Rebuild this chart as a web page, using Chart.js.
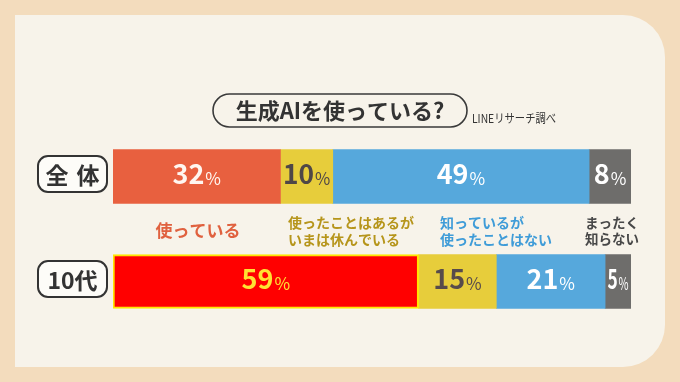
<!DOCTYPE html>
<html>
<head>
<meta charset="utf-8">
<script src="https://cdn.jsdelivr.net/npm/chart.js@4"></script>
<style>
  html, body { margin: 0; padding: 0; background: #f3dcbd; }
  #wrap { width: 680px; height: 382px; }
</style>
</head>
<body>
<div id="wrap"><canvas id="aiChart" width="680" height="382"></canvas></div>
<script>
const rowLabels = ['全体', '10代'];
const answerLabels = ['使っている', '使ったことはあるが\nいまは休んでいる', '知っているが\n使ったことはない', 'まったく\n知らない'];
const allValues = [32, 10, 49, 8];
const teenValues = [59, 15, 21, 5];
const rowValues = [allValues, teenValues];

const titleText = '生成AIを使っている?';
const sourceText = 'LINEリサーチ調べ';

// styles
const JP = "'Noto Sans CJK JP', 'Noto Sans', sans-serif";
const fills = [
    ['#e8603f', '#e7cd3b', '#56a8dc', '#6e6d6b'],
    ['#ff0000', '#e7cd3b', '#56a8dc', '#6e6d6b']
];
const valueColors = [
    ['#fff6f0', '#4f4747', '#ffffff', '#ffffff'],
    ['#ffe233', '#574b4b', '#ffffff', '#ffffff']
];
const answerColors = ['#e0613f', '#b6951b', '#3f9cd8', '#474747'];
// text anchor for the answer captions under the first bar
const answerPos = [
    { x: 198, align: 'center', size: 17 },
    { x: 288, align: 'left', size: 14 },
    { x: 440, align: 'left', size: 14 },
    { x: 585, align: 'left', size: 13.5 }
];

function sum(a) { return a.reduce((s, v) => s + v, 0); }

const datasets = [];
rowValues.forEach((vals, r) => {
    vals.forEach((v, i) => {
        const outlined = r === 1 && i === 0;
        datasets.push({
            label: answerLabels[i],
            data: rowLabels.map((_, j) => j === r ? v : null),
            xAxisID: 'x' + r,
            backgroundColor: fills[r][i],
            borderColor: outlined ? '#ffe600' : fills[r][i],
            borderWidth: outlined ? 2 : 0,
            borderSkipped: false,
            barThickness: 54,
            row: r,
            seg: i
        });
    });
});

function roundRect(ctx, x, y, w, h, r) {
    ctx.beginPath();
    ctx.moveTo(x + r, y);
    ctx.lineTo(x + w - r, y);
    ctx.arcTo(x + w, y, x + w, y + r, r);
    ctx.lineTo(x + w, y + h - r);
    ctx.arcTo(x + w, y + h, x + w - r, y + h, r);
    ctx.lineTo(x + r, y + h);
    ctx.arcTo(x, y + h, x, y + h - r, r);
    ctx.lineTo(x, y + r);
    ctx.arcTo(x, y, x + r, y, r);
    ctx.closePath();
}

const panelPlugin = {
    id: 'panel',
    beforeDraw(chart) {
        const ctx = chart.ctx;
        ctx.save();
        ctx.fillStyle = '#f3dcbd';
        ctx.fillRect(0, 0, chart.width, chart.height);
        // cream panel, rounded on the right side only
        const x0 = 15, y0 = 15, x1 = 665, y1 = 367, r = 42;
        ctx.beginPath();
        ctx.moveTo(x0, y0);
        ctx.lineTo(x1 - r, y0);
        ctx.arcTo(x1, y0, x1, y0 + r, r);
        ctx.lineTo(x1, y1 - r);
        ctx.arcTo(x1, y1, x1 - r, y1, r);
        ctx.lineTo(x0, y1);
        ctx.closePath();
        ctx.fillStyle = '#f7f3ea';
        ctx.fill();

        // title pill
        ctx.lineWidth = 1.6;
        ctx.strokeStyle = '#3a3a3a';
        roundRect(ctx, 213, 94, 254, 33, 16.5);
        ctx.stroke();
        ctx.fillStyle = '#333333';
        ctx.font = 'bold 22px ' + JP;
        ctx.textAlign = 'center';
        ctx.textBaseline = 'middle';
        ctx.fillText(titleText, 340, 111);

        ctx.font = '12px ' + JP;
        ctx.textAlign = 'left';
        ctx.save();
        ctx.translate(472, 118);
        ctx.scale(0.86, 1);
        ctx.fillText(sourceText, 0, 0);
        ctx.restore();
        ctx.restore();
    },
    afterDatasetsDraw(chart) {
        const ctx = chart.ctx;
        const yScale = chart.scales.y;
        ctx.save();

        // row name boxes
        rowLabels.forEach((name, r) => {
            const cy = yScale.getPixelForValue(r) - 2.5;
            ctx.lineWidth = 2;
            ctx.strokeStyle = '#333333';
            ctx.fillStyle = '#fdfcf8';
            roundRect(ctx, 38, cy - 18, 69, 36, 10);
            ctx.fill();
            ctx.stroke();
            ctx.fillStyle = '#333333';
            ctx.font = 'bold 23px ' + JP;
            ctx.textAlign = 'center';
            ctx.textBaseline = 'middle';
            if (r === 0) {
                ctx.letterSpacing = '8px';
                ctx.fillText(name, 76.5, cy + 1);
                ctx.letterSpacing = '0px';
            } else {
                ctx.fillText(name, 72.5, cy + 1);
            }
        });

        // values inside the bars
        chart.data.datasets.forEach((ds, di) => {
            const meta = chart.getDatasetMeta(di);
            const bar = meta.data[ds.row];
            if (!bar) return;
            const p = bar.getProps(['x', 'y', 'base'], true);
            const left = Math.min(p.x, p.base), right = Math.max(p.x, p.base);
            const segW = right - left;
            const num = String(ds.data[ds.row]);
            ctx.font = 'bold 27px ' + JP;
            const wNum = ctx.measureText(num).width;
            ctx.font = '17px ' + JP;
            const wPct = ctx.measureText('%').width;
            const total = wNum + 1 + wPct;
            const sx = Math.min(1, (segW - 5) / total);
            ctx.save();
            ctx.translate((left + right) / 2, p.y + 7);
            ctx.scale(sx, 1);
            ctx.fillStyle = valueColors[ds.row][ds.seg];
            ctx.textAlign = 'left';
            ctx.textBaseline = 'alphabetic';
            ctx.font = 'bold 27px ' + JP;
            ctx.fillText(num, -total / 2, 0);
            ctx.font = '17px ' + JP;
            ctx.fillText('%', -total / 2 + wNum + 1, 1);
            ctx.restore();
        });

        // answer captions between the bars
        const capY = 231;
        answerLabels.forEach((txt, i) => {
            const lines = txt.split('\n');
            const pos = answerPos[i];
            ctx.fillStyle = answerColors[i];
            ctx.font = 'bold ' + pos.size + 'px ' + JP;
            ctx.textAlign = pos.align;
            ctx.textBaseline = 'middle';
            const lh = pos.size + 3;
            lines.forEach((line, k) => {
                const y = capY + (k - (lines.length - 1) / 2) * lh;
                ctx.fillText(line, pos.x, y);
            });
        });
        ctx.restore();
    }
};

new Chart(document.getElementById('aiChart'), {
    type: 'bar',
    data: { labels: rowLabels, datasets: datasets },
    options: {
        indexAxis: 'y',
        responsive: false,
        animation: false,
        devicePixelRatio: 1,
        layout: { padding: { left: 113, right: 49, top: 124, bottom: 48 } },
        plugins: {
            legend: { display: false },
            title: { display: false },
            tooltip: { enabled: false }
        },
        scales: {
            y: { type: 'category', stacked: true, display: false },
            x0: { axis: 'x', type: 'linear', stacked: true, min: 0, max: sum(allValues), display: false },
            x1: { axis: 'x', type: 'linear', stacked: true, min: 0, max: sum(teenValues), display: false }
        }
    },
    plugins: [panelPlugin]
});
</script>
</body>
</html>
